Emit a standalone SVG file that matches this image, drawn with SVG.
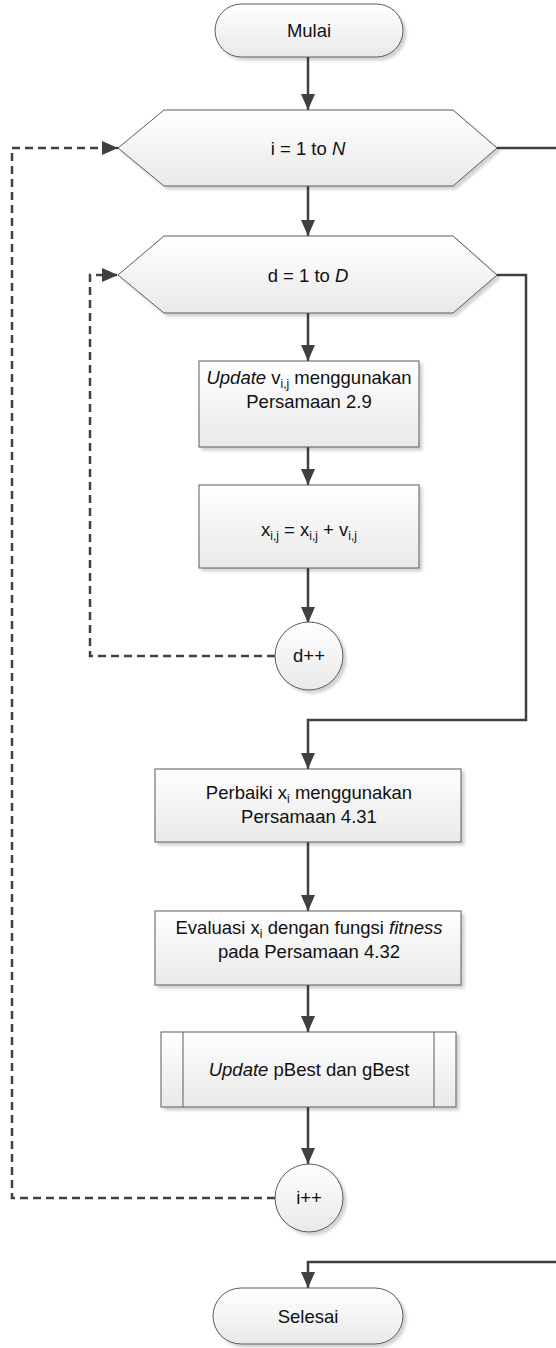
<svg xmlns="http://www.w3.org/2000/svg" width="556" height="1348" viewBox="0 0 556 1348">
<style>
.shape{fill:url(#g);stroke:#5a5a5a;stroke-width:1;filter:url(#sh)}
.con{fill:none;stroke:#404040;stroke-width:2.5}
.dash{fill:none;stroke:#404040;stroke-width:2.5;stroke-dasharray:8 5}
text{font-family:"Liberation Sans",Arial,sans-serif;font-size:18.5px;fill:#111;text-anchor:middle}
.it{font-style:italic}
.sub{font-size:12px}
</style>
<defs>
<linearGradient id="g" x1="0" y1="0" x2="0" y2="1">
<stop offset="0" stop-color="#ffffff"/>
<stop offset="1" stop-color="#e9e9e9"/>
</linearGradient>
<filter id="sh" x="-10%" y="-10%" width="130%" height="130%">
<feDropShadow dx="3" dy="3" stdDeviation="1.5" flood-color="#000" flood-opacity="0.18"/>
</filter>
<marker id="ar" viewBox="0 0 16 14" refX="16" refY="7" markerWidth="16" markerHeight="14" markerUnits="userSpaceOnUse" orient="auto">
<path d="M0,0 L16,7 L0,14 z" fill="#404040"/>
</marker>
</defs>

<g id="connectors">
<path class="con" d="M308,57 V110" marker-end="url(#ar)"/>
<path class="con" d="M308,186 V236" marker-end="url(#ar)"/>
<path class="con" d="M308,313 V361" marker-end="url(#ar)"/>
<path class="con" d="M308,447 V485" marker-end="url(#ar)"/>
<path class="con" d="M308,568 V623" marker-end="url(#ar)"/>
<path class="dash" d="M275,656 H90 V275 H118" marker-end="url(#ar)"/>
<path class="con" d="M497,275 H526 V720 H308 V769" marker-end="url(#ar)"/>
<path class="con" d="M308,842 V911" marker-end="url(#ar)"/>
<path class="con" d="M308,985 V1032" marker-end="url(#ar)"/>
<path class="con" d="M308,1107 V1164" marker-end="url(#ar)"/>
<path class="dash" d="M275,1198 H12 V148 H118" marker-end="url(#ar)"/>
<path class="con" d="M497,148 H575 V1262 H308 V1288" marker-end="url(#ar)"/>
</g>

<g id="mulai">
<rect class="shape" x="215" y="4" width="188" height="53" rx="26.5" ry="26.5"/>
<text x="309" y="37">Mulai</text>
</g>

<g id="loop-i">
<polygon class="shape" points="118,148 164,110 453,110 497,148 453,186 164,186"/>
<text x="308" y="155">i = 1 to <tspan class="it">N</tspan></text>
</g>

<g id="loop-d">
<polygon class="shape" points="118,275 164,236 453,236 497,275 453,313 164,313"/>
<text x="308" y="282">d = 1 to <tspan class="it">D</tspan></text>
</g>

<g id="update-v">
<rect class="shape" x="199" y="361" width="220" height="86"/>
<text x="309" y="384"><tspan class="it">Update</tspan> v<tspan class="sub" dy="4">i,j</tspan><tspan dy="-4"> menggunakan</tspan></text>
<text x="309" y="408">Persamaan 2.9</text>
</g>

<g id="update-x">
<rect class="shape" x="199" y="485" width="220" height="83"/>
<text x="309" y="536">x<tspan class="sub" dy="4">i,j</tspan><tspan dy="-4"> =  x</tspan><tspan class="sub" dy="4">i,j</tspan><tspan dy="-4"> + v</tspan><tspan class="sub" dy="4">i,j</tspan></text>
</g>

<g id="d-inc">
<circle class="shape" cx="309" cy="656" r="34"/>
<text x="309" y="662">d++</text>
</g>

<g id="perbaiki">
<rect class="shape" x="155" y="769" width="306" height="73"/>
<text x="309" y="799">Perbaiki x<tspan class="sub" dy="4">i</tspan><tspan dy="-4"> menggunakan</tspan></text>
<text x="309" y="823">Persamaan 4.31</text>
</g>

<g id="evaluasi">
<rect class="shape" x="155" y="911" width="306" height="74"/>
<text x="309" y="934">Evaluasi x<tspan class="sub" dy="4">i</tspan><tspan dy="-4"> dengan fungsi </tspan><tspan class="it">fitness</tspan></text>
<text x="309" y="958">pada Persamaan 4.32</text>
</g>

<g id="update-best">
<rect class="shape" x="161" y="1032" width="295" height="75"/>
<line x1="183" y1="1032" x2="183" y2="1107" stroke="#5a5a5a" stroke-width="1"/>
<line x1="434" y1="1032" x2="434" y2="1107" stroke="#5a5a5a" stroke-width="1"/>
<text x="309" y="1076"><tspan class="it">Update</tspan> pBest dan gBest</text>
</g>

<g id="i-inc">
<circle class="shape" cx="309" cy="1198" r="34"/>
<text x="309" y="1204">i++</text>
</g>

<g id="selesai">
<rect class="shape" x="213" y="1288" width="190" height="56" rx="28" ry="28"/>
<text x="308" y="1323">Selesai</text>
</g>
</svg>
